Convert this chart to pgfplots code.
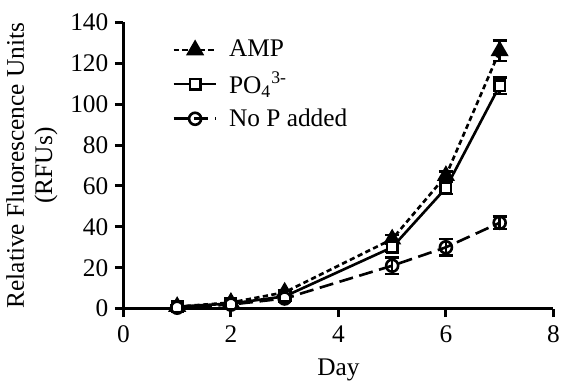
\documentclass[border={0pt 0pt 0pt 4pt}]{standalone}
\usepackage{fontspec}
\setmainfont{Liberation Serif}
\usepackage{pgfplots}
\pgfplotsset{compat=1.18}
\begin{document}
\begin{tikzpicture}
\begin{axis}[
  scale only axis, width=229pt, height=152.5pt,
  xmin=0, xmax=8, ymin=0, ymax=140,
  axis x line*=bottom, axis y line*=left,
  axis line style={line width=1.6pt},
  xtick={0,2,...,8}, ytick={0,20,...,140},
  tick align=outside, major tick length=4.5pt,
  tick style={line width=1.6pt, black},
  /pgf/number format/assume math mode=true,
  tick label style={font=\fontsize{13.5}{15}\selectfont},
  xticklabel style={yshift=-1pt},
  label style={font=\fontsize{13.5}{15}\selectfont},
  xlabel={Day}, ylabel={Relative Fluorescence Units\\(RFUs)},
  xlabel style={yshift=-2pt},
  ylabel style={align=center},
  legend style={at={(0.1,0.965)}, anchor=north west, draw=none, fill=none,
    font=\fontsize{13.5}{15}\selectfont, row sep=2.5pt,
    /tikz/every odd column/.append style={column sep=4pt}},
  legend cell align=left,
  legend image code/.code={\draw[mark repeat=2,mark phase=2,#1] plot coordinates {(0cm,0cm) (0.4cm,0cm) (0.8cm,0cm)};},
  clip=false,
]
\addplot[black, line width=1.4pt, dash pattern=on 2.8pt off 1.8pt, mark=triangle*, mark size=4.2pt,
  mark options={solid, fill=black},
  error bars/.cd, y dir=both, y explicit, error bar style={solid, line width=1.4pt}, error mark options={rotate=90, mark size=3.7pt, line width=1.4pt}]
  coordinates {(1,1) +- (0,0.5) (2,3) +- (0,0.8) (3,8) +- (0,1) (5,34) +- (0,2) (6,65) +- (0,2) (7,126) +- (0,5)};
\addlegendentry{AMP}
\addplot[black, line width=1.4pt, solid, mark=square*, mark size=2.8pt,
  mark options={solid, fill=white},
  error bars/.cd, y dir=both, y explicit, error bar style={solid, line width=1.4pt}, error mark options={rotate=90, mark size=3.7pt, line width=1.4pt}]
  coordinates {(1,1) +- (0,0.5) (2,2.5) +- (0,0.8) (3,6) +- (0,1) (5,30) +- (0,2) (6,59) +- (0,3) (7,109) +- (0,4)};
\addlegendentry{PO\textsubscript{4}\textsuperscript{3-}}
\addplot[black, line width=1.4pt, dash pattern=on 7.5pt off 3.5pt, mark=o, mark size=3.2pt,
  mark options={solid, fill=white},
  error bars/.cd, y dir=both, y explicit, error bar style={solid, line width=1.4pt}, error mark options={rotate=90, mark size=3.7pt, line width=1.4pt}]
  coordinates {(1,0.5) +- (0,0.5) (2,2) +- (0,0.8) (3,5) +- (0,1) (5,21) +- (0,4) (6,30) +- (0,4) (7,42) +- (0,3)};
\addlegendentry{No P added}
\end{axis}
\end{tikzpicture}
\end{document}
